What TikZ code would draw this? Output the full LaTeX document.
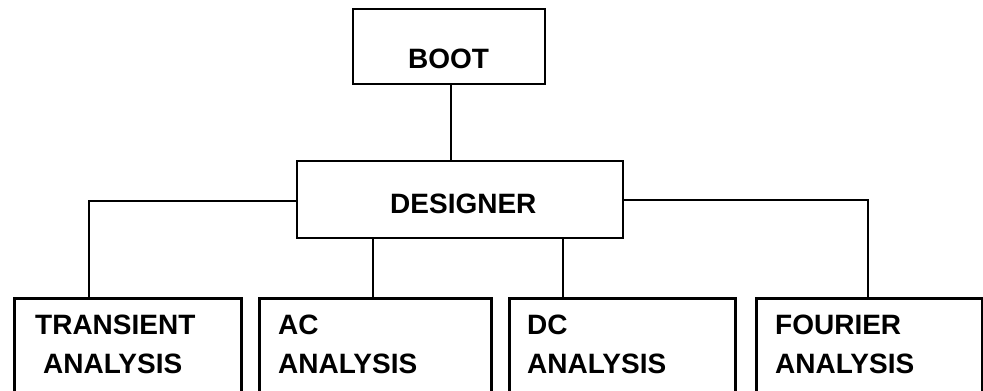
\documentclass[tikz,border=0pt]{standalone}
\usepackage{fontspec}
\setmainfont{Liberation Sans}
\begin{document}
\begin{tikzpicture}[x=1pt,y=-1pt,
  box/.style={draw=black, line width=2.8pt, inner sep=0pt, rectangle},
  lbl/.style={inner sep=0pt, anchor=base west, font=\fontsize{28}{32}\selectfont\bfseries},
  conn/.style={draw=black, line width=2.8pt}]
\clip (0,0) rectangle (983,391);
\fill[white] (0,0) rectangle (983,391);
% boxes
\node[box, minimum width=192pt, minimum height=75pt] (boot) at (449,46.5) {};
\node[box, minimum width=326pt, minimum height=77pt] (des) at (460,199.5) {};
\node[box, anchor=north west, minimum width=227pt, minimum height=130pt] (tr) at (13,297) {};
\node[box, anchor=north west, minimum width=232pt, minimum height=130pt] (ac) at (258,297) {};
\node[box, anchor=north west, minimum width=226pt, minimum height=130pt] (dc) at (508,297) {};
\node[box, anchor=north west, minimum width=226pt, minimum height=130pt] (fo) at (755,297) {};
% labels
\node[lbl] (tboot) at (408,68) {BOOT};
\node[lbl] (tdes) at (390,213) {DESIGNER};
\node[lbl] (ttr1) at (35,334) {TRANSIENT};
\node[lbl] (ttr2) at (43,373) {ANALYSIS};
\node[lbl] (tac1) at (278,334) {AC};
\node[lbl] (tac2) at (278,373) {ANALYSIS};
\node[lbl] (tdc1) at (527,334) {DC};
\node[lbl] (tdc2) at (527,373) {ANALYSIS};
\node[lbl] (tfo1) at (775,334) {FOURIER};
\node[lbl] (tfo2) at (775,373) {ANALYSIS};
% connectors
\draw[conn] ([xshift=2pt]boot.south) -- ([xshift=2pt]boot.south |- des.north);
\draw[conn] ([yshift=-1.5pt]des.west) -| ([xshift=76pt]tr.north west);
\draw[conn] ([yshift=-0.5pt]des.east) -| ([xshift=113pt]fo.north west);
\draw[conn] ([xshift=115pt]ac.north west |- des.south) -- ([xshift=115pt]ac.north west);
\draw[conn] ([xshift=55pt]dc.north west |- des.south) -- ([xshift=55pt]dc.north west);
\end{tikzpicture}
\end{document}
